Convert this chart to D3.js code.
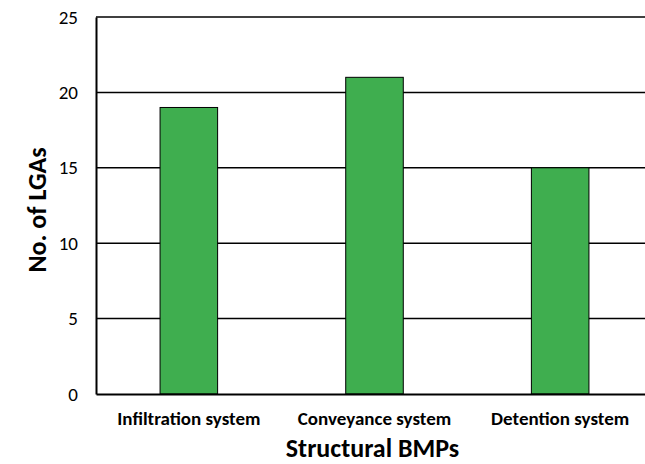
<!DOCTYPE html>
<html><head><meta charset="utf-8">
<script src="https://cdn.jsdelivr.net/npm/d3@7"></script>
<style>body{margin:0;background:#fff}svg{display:block}</style>
</head><body>
<script>
const categories = ["Infiltration system", "Conveyance system", "Detention system"];
const values = [19, 21, 15];
const yTicks = [0, 5, 10, 15, 20, 25];

(function () {
const W = 645, H = 464;
const mLeft = 96, mRight = 653, mTop = 17, mBottom = 394;
const svg = d3.select("body").append("svg").attr("width", W).attr("height", H);
const font = "Calibri, Carlito, 'Open Sans', 'Liberation Sans', sans-serif";

const x = d3.scaleBand().domain(categories).range([mLeft, mRight]).paddingInner(0.69).paddingOuter(0.345);
const y = d3.scaleLinear().domain([0, 25]).range([mBottom, mTop]);

// gridlines
svg.append("g").selectAll("line").data(yTicks.filter(d => d > 0)).join("line")
  .attr("x1", mLeft).attr("x2", mRight).attr("y1", d => y(d)).attr("y2", d => y(d))
  .attr("stroke", "#000").attr("stroke-width", 1.5);

// bars
svg.append("g").selectAll("rect").data(values).join("rect")
  .attr("x", (d, i) => x(categories[i])).attr("width", x.bandwidth())
  .attr("y", d => y(d)).attr("height", d => y(0) - y(d))
  .attr("fill", "#3fae4f").attr("stroke", "#000").attr("stroke-width", 1);

// y axis
const ya = svg.append("g").attr("transform", `translate(${mLeft},0)`)
  .call(d3.axisLeft(y).tickValues(yTicks).tickSize(0).tickPadding(18));
ya.select(".domain").attr("stroke", "#000").attr("stroke-width", 2);
ya.selectAll("text").attr("font-family", font).attr("font-size", 19).attr("fill", "#000");

// x axis
const xa = svg.append("g").attr("transform", `translate(0,${mBottom})`)
  .call(d3.axisBottom(x).tickSize(0).tickPadding(18));
xa.select(".domain").attr("stroke", "#000").attr("stroke-width", 2);
xa.selectAll("text").attr("font-family", font).attr("font-size", 19).attr("font-weight", "bold").attr("fill", "#000");

// titles
svg.append("text").attr("x", 372.5).attr("y", 457).attr("text-anchor", "middle")
  .attr("font-family", font).attr("font-size", 26).attr("font-weight", "bold").text("Structural BMPs");
svg.append("text").attr("transform", "translate(46,210) rotate(-90)").attr("text-anchor", "middle")
  .attr("font-family", font).attr("font-size", 26).attr("font-weight", "bold").text("No. of LGAs");
})();
</script>
</body></html>
